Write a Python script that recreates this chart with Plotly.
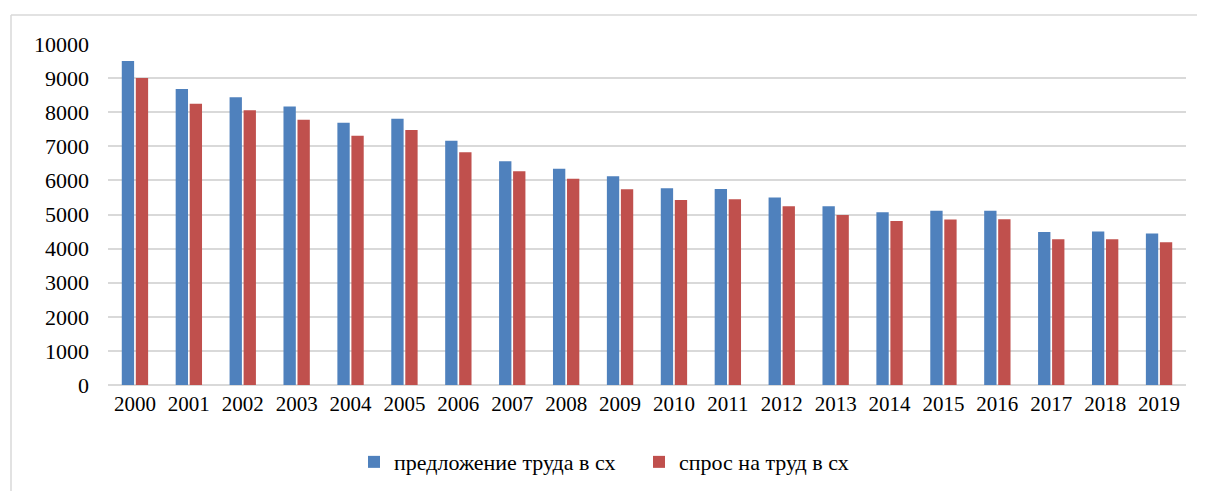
import plotly.graph_objects as go

years = [str(y) for y in range(2000, 2020)]
supply = [9500, 8680, 8440, 8170, 7690, 7810, 7160, 6560, 6340, 6120,
          5770, 5750, 5500, 5240, 5065, 5110, 5110, 4490, 4505, 4440]
demand = [9000, 8250, 8055, 7780, 7310, 7480, 6825, 6265, 6050, 5740,
          5425, 5445, 5240, 4985, 4810, 4850, 4860, 4273, 4273, 4185]
y_ticks = list(range(0, 10001, 1000))

FONT = "Liberation Serif, Times New Roman, serif"

fig = go.Figure()
fig.add_trace(go.Bar(x=years, y=supply, name="предложение труда в сх",
                     marker=dict(color="#4F81BD", line=dict(width=0))))
fig.add_trace(go.Bar(x=years, y=demand, name="спрос на труд в сх",
                     marker=dict(color="#C0504D", line=dict(width=0))))

fig.update_layout(
    width=1205, height=491,
    margin=dict(l=100, r=27, t=36, b=114, autoexpand=False),
    paper_bgcolor="white", plot_bgcolor="white",
    barmode="group", bargap=0.48, bargroupgap=0.12,
    font=dict(family=FONT, size=21, color="black"),
    legend=dict(orientation="h", x=0.4926, xanchor="center", y=-0.226, yanchor="middle",
                font=dict(family=FONT, size=22), traceorder="normal",
                entrywidth=240, entrywidthmode="pixels"),
    showlegend=True,
)
fig.update_yaxes(range=[0, 10000], tickvals=y_ticks, ticktext=[str(v) for v in y_ticks],
                 showgrid=True, gridcolor="#D9D9D9", gridwidth=1.5,
                 zeroline=True, zerolinecolor="#D9D9D9", zerolinewidth=1.5,
                 showline=False, ticks="", ticklabelstandoff=18,
                 tickfont=dict(family=FONT, size=22))
fig.update_xaxes(showgrid=False, showline=False, ticks="", ticklabelstandoff=4,
                 tickfont=dict(family=FONT, size=21))

# outer chart border (top and left)
bx = (11 - 108) / 1078
by = (385 - 15) / 341
fig.add_shape(type="line", xref="paper", yref="paper",
              x0=bx, x1=1.05, y0=by, y1=by,
              line=dict(color="#D9D9D9", width=1.5))
fig.add_shape(type="line", xref="paper", yref="paper",
              x0=bx, x1=bx, y0=-0.4, y1=by,
              line=dict(color="#D9D9D9", width=1.5))

fig.write_html("out.html")
